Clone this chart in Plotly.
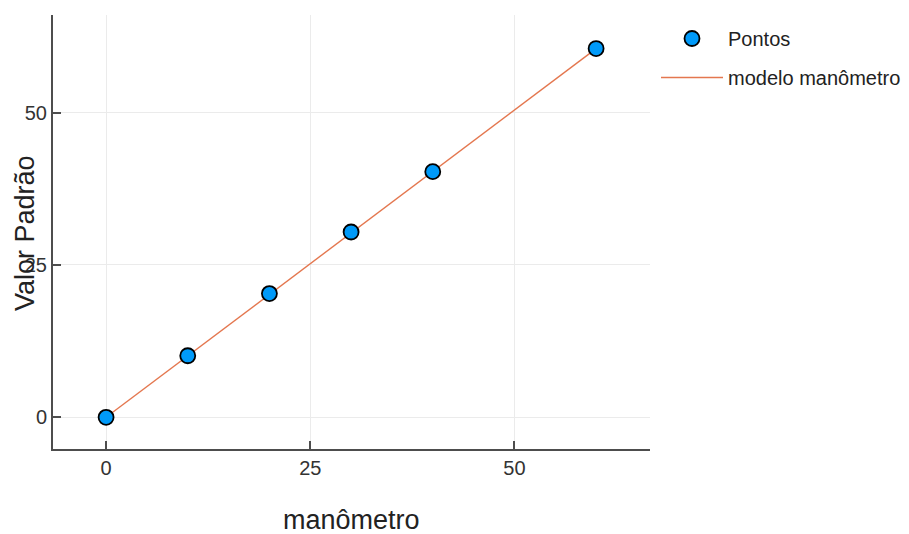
import plotly.graph_objects as go

x_pontos = [0, 10, 20, 30, 40, 60]
y_pontos = [0.0, 10.1, 20.3, 30.4, 40.3, 60.5]
x_modelo = [0, 10, 20, 30, 40, 60]
y_modelo = [0.0, 10.08, 20.16, 30.24, 40.32, 60.48]
tick_vals = [0, 25, 50]
tick_text = ["0", "25", "50"]

OFF = 8  # page body margin
W, H = 909, 534 - OFF
L, T = 53 - OFF, 15 - OFF
R = W - (650 - OFF)
B = H - (449 - OFF)
pw = W - L - R
ph = H - T - B


def px(xp):
    return (xp - OFF - L) / pw


def py(yp):
    return (H - B - (yp - OFF)) / ph


fig = go.Figure()
fig.add_trace(go.Scatter(
    x=x_modelo, y=y_modelo, mode="lines", name="modelo manômetro",
    legendgroup="b", legendrank=2,
    line=dict(color="#e4774f", width=1.4),
))
fig.add_trace(go.Scatter(
    x=x_pontos, y=y_pontos, mode="markers", name="Pontos",
    legendgroup="a", legendrank=1,
    marker=dict(size=15, color="#009af9", line=dict(color="black", width=1.8)),
))

font = "Liberation Sans, Arial, sans-serif"
axis_common = dict(
    showgrid=True, gridcolor="#ebebeb", gridwidth=1,
    showline=True, linecolor="#4d4d4d", linewidth=2,
    ticks="inside", ticklen=8, tickwidth=1.5, tickcolor="#4d4d4d",
    zeroline=False, mirror=False,
    tickfont=dict(family=font, size=20, color="#333333"),
    tickvals=tick_vals, ticktext=tick_text,
)
fig.update_xaxes(range=[-6.5, 66.6], **axis_common)
fig.update_yaxes(range=[-5.2, 66.0], **axis_common)

fig.update_layout(
    width=W, height=H,
    margin=dict(l=L, r=R, t=T, b=B, pad=0, autoexpand=False),
    plot_bgcolor="white", paper_bgcolor="white",
    showlegend=True,
    legend=dict(
        x=px(656), y=py(19), xanchor="left", yanchor="top",
        font=dict(family=font, size=20, color="#222222"),
        bgcolor="rgba(0,0,0,0)", traceorder="grouped",
        itemwidth=62, tracegroupgap=10,
    ),
    annotations=[
        dict(text="manômetro", xref="paper", yref="paper",
             x=px(351), y=py(520),
             xanchor="center", yanchor="middle", showarrow=False,
             font=dict(family=font, size=27, color="#222222")),
        dict(text="Valor Padrão", xref="paper", yref="paper",
             x=px(25), y=py(233), textangle=-90,
             xanchor="center", yanchor="middle", showarrow=False,
             font=dict(family=font, size=27, color="#222222")),
    ],
)

fig.write_html("out.html")
